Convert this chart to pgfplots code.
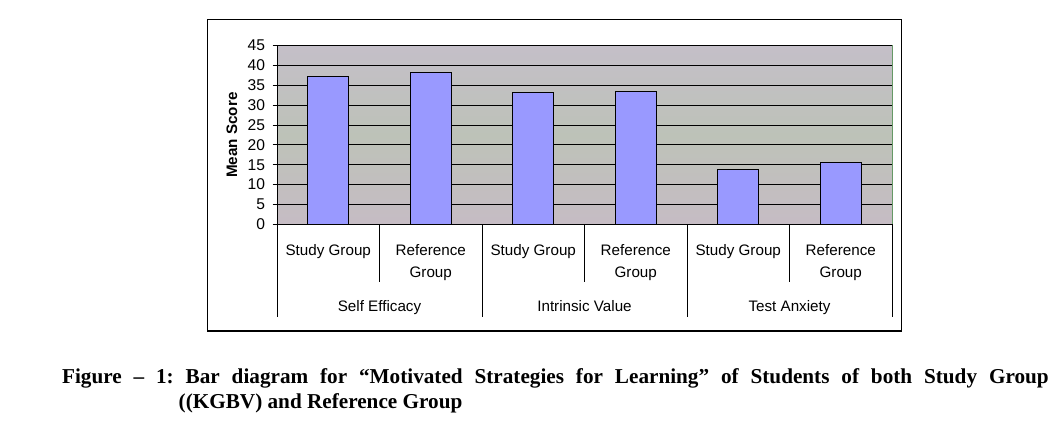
\documentclass[border=0pt]{standalone}
\usepackage{fontspec}
\setmainfont{Liberation Sans}
\newfontfamily\capfont{Liberation Serif}
\usepackage{pgfplots}
\pgfplotsset{compat=1.18}
\definecolor{barblue}{RGB}{153,153,255}
\definecolor{bgtop}{RGB}{196,191,200}
\definecolor{bgmid}{RGB}{189,194,184}
\definecolor{bgbot}{RGB}{198,188,196}
\frenchspacing
\begin{document}
\begin{tikzpicture}
\path[use as bounding box] (0pt,0pt) rectangle (529pt,-211.5pt);
\draw[line width=0.7pt] (103.6pt,-9.7pt) rectangle (450.6pt,-165.5pt);
\begin{axis}[
  at={(138.5pt,-112.15pt)}, anchor=south west,
  scale only axis, width=307.5pt, height=89.3pt,
  xmin=-0.5, xmax=5.5, ymin=0, ymax=45,
  ytick={0,5,...,45},
  xtick=\empty,
  axis x line*=bottom, axis y line*=left,
  axis line style={-, black, line width=0.5pt},
  axis background/.style={top color=bgtop, bottom color=bgbot, middle color=bgmid, draw=gray!80!green, line width=0.5pt},
  ymajorgrids, grid style={black, line width=0.5pt},
  tick align=outside, major tick length=2.2pt,
  tick style={black, line width=0.5pt},
  font=\fontsize{7.6pt}{9pt}\selectfont,
  /pgf/number format/assume math mode=true,
  yticklabel style={font=\fontsize{7.8pt}{9pt}\selectfont, inner sep=1pt, xshift=-2.6pt},
  ylabel={\bfseries Mean Score},
  ylabel style={at={(axis description cs:0,0.5)}, yshift=22.6pt, anchor=center, font=\fontsize{7.6pt}{9pt}\selectfont},
  clip=false,
]
\addplot[ybar, bar width=20.5pt, fill=barblue, draw=black, line width=0.5pt]
  coordinates {(0,37.3) (1,38.3) (2,33.2) (3,33.5) (4,13.8) (5,15.5)};
% category separators
\draw[black, line width=0.5pt] (axis cs:0.5,0) -- ++(0pt,-28.7pt);
\draw[black, line width=0.5pt] (axis cs:2.5,0) -- ++(0pt,-28.7pt);
\draw[black, line width=0.5pt] (axis cs:4.5,0) -- ++(0pt,-28.7pt);
\draw[black, line width=0.5pt] (axis cs:-0.5,0) -- ++(0pt,-46.2pt);
\draw[black, line width=0.5pt] (axis cs:1.5,0) -- ++(0pt,-46.2pt);
\draw[black, line width=0.5pt] (axis cs:3.5,0) -- ++(0pt,-46.2pt);
\draw[black, line width=0.5pt] (axis cs:5.5,0) -- ++(0pt,-46.2pt);
\node[anchor=base, inner sep=0pt] at ([yshift=-15.35pt]axis cs:0,0) {Study Group};
\node[anchor=base, inner sep=0pt] at ([yshift=-15.35pt]axis cs:2,0) {Study Group};
\node[anchor=base, inner sep=0pt] at ([yshift=-15.35pt]axis cs:4,0) {Study Group};
\node[anchor=base, inner sep=0pt] at ([yshift=-15.35pt]axis cs:1,0) {Reference};
\node[anchor=base, inner sep=0pt] at ([yshift=-15.35pt]axis cs:3,0) {Reference};
\node[anchor=base, inner sep=0pt] at ([yshift=-15.35pt]axis cs:5,0) {Reference};
\node[anchor=base, inner sep=0pt] at ([yshift=-26.35pt]axis cs:1,0) {Group};
\node[anchor=base, inner sep=0pt] at ([yshift=-26.35pt]axis cs:3,0) {Group};
\node[anchor=base, inner sep=0pt] at ([yshift=-26.35pt]axis cs:5,0) {Group};
\node[anchor=base, inner sep=0pt] at ([yshift=-43.8pt]axis cs:0.5,0) {Self Efficacy};
\node[anchor=base, inner sep=0pt] at ([yshift=-43.8pt]axis cs:2.5,0) {Intrinsic Value};
\node[anchor=base, inner sep=0pt] at ([yshift=-43.8pt]axis cs:4.5,0) {Test Anxiety};
\end{axis}
\node[anchor=base west, inner sep=0pt, font=\capfont\bfseries\fontsize{10.6pt}{12pt}\selectfont] at (30.85pt,-191.65pt)
  {\makebox[493.3pt][s]{Figure – 1: Bar diagram for “Motivated Strategies for Learning” of Students of both Study Group}};
\node[anchor=base west, inner sep=0pt, font=\capfont\bfseries\fontsize{10.6pt}{12pt}\selectfont] at (89.15pt,-204pt)
  {((KGBV) and Reference Group};
\end{tikzpicture}
\end{document}
